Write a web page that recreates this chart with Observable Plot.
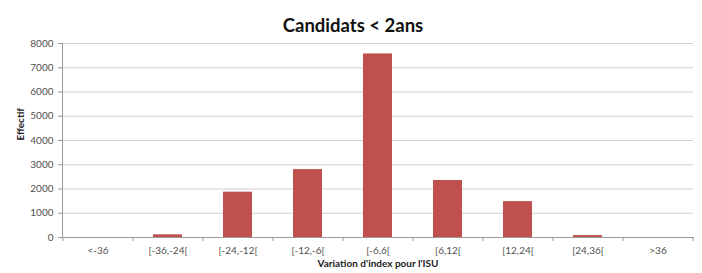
<!DOCTYPE html>
<html>
<head>
<meta charset="utf-8">
<script src="https://cdn.jsdelivr.net/npm/d3@7"></script>
<script src="https://cdn.jsdelivr.net/npm/@observablehq/plot@0.6"></script>
<style>
  body { margin: 0; background: #fff; }
  #chart { width: 702px; height: 273px; position: relative; }
</style>
</head>
<body>
<div id="chart"></div>
<script>
const title = "Candidats < 2ans";
const xLabel = "Variation d'index pour l'ISU";
const yLabel = "Effectif";
const categories = ["<-36", "[-36,-24[", "[-24,-12[", "[-12,-6[", "[-6,6[", "[6,12[", "[12,24[", "[24,36[", ">36"];
const values = [0, 110, 1870, 2800, 7570, 2350, 1480, 80, 0];
const yTicks = [0, 1000, 2000, 3000, 4000, 5000, 6000, 7000, 8000];

const data = categories.map((c, i) => ({cat: c, value: values[i]}));

const W = 702, H = 273, ML = 62, MR = 9, MT = 43, MB = 36;
const band = (W - ML - MR) / categories.length;

const plot = Plot.plot({
  width: W,
  height: H,
  marginLeft: ML,
  marginRight: MR,
  marginTop: MT,
  marginBottom: MB,
  style: {fontFamily: "Lato, 'Open Sans', sans-serif", fontSize: "10px", color: "#404040", background: "#fff"},
  x: {domain: categories, paddingInner: 0.59, paddingOuter: 0.295, axis: null, label: null},
  y: {domain: [0, 8000], axis: null, label: null},
  marks: [
    Plot.gridY(yTicks, {stroke: "#cfcfcf", strokeOpacity: 1}),
    Plot.barY(data, {x: "cat", y: "value", fill: "#C0504D"}),
    Plot.axisY(yTicks, {tickSize: 4, tickPadding: 5, stroke: "#9a9a9a", fill: "#505050", fontSize: 10, tickFormat: d3.format("d"), label: null}),
    Plot.frame({anchor: "left", stroke: "#9a9a9a"}),
    Plot.frame({anchor: "bottom", stroke: "#9a9a9a"}),
    Plot.axisX(categories, {tickSize: 0, tickPadding: 9, fill: "#505050", fontSize: 10, label: null}),
    Plot.axisX(categories, {tickSize: 4, dx: -band / 2, text: null, stroke: "#9a9a9a", label: null}),
    Plot.axisX([categories[categories.length - 1]], {tickSize: 4, dx: band / 2, text: null, stroke: "#9a9a9a", label: null}),
    Plot.text([xLabel], {frameAnchor: "bottom", dy: 29, fontWeight: "bold", fontSize: 10, fill: "#222"}),
    Plot.text([yLabel], {frameAnchor: "left", dx: -42, rotate: -90, fontWeight: "bold", fontSize: 10, fill: "#222"}),
    Plot.text([title], {frameAnchor: "top", dy: -25, dx: -25, fontWeight: "bold", fontSize: 18.5, fill: "#111"})
  ]
});
document.getElementById("chart").appendChild(plot);
</script>
</body>
</html>
